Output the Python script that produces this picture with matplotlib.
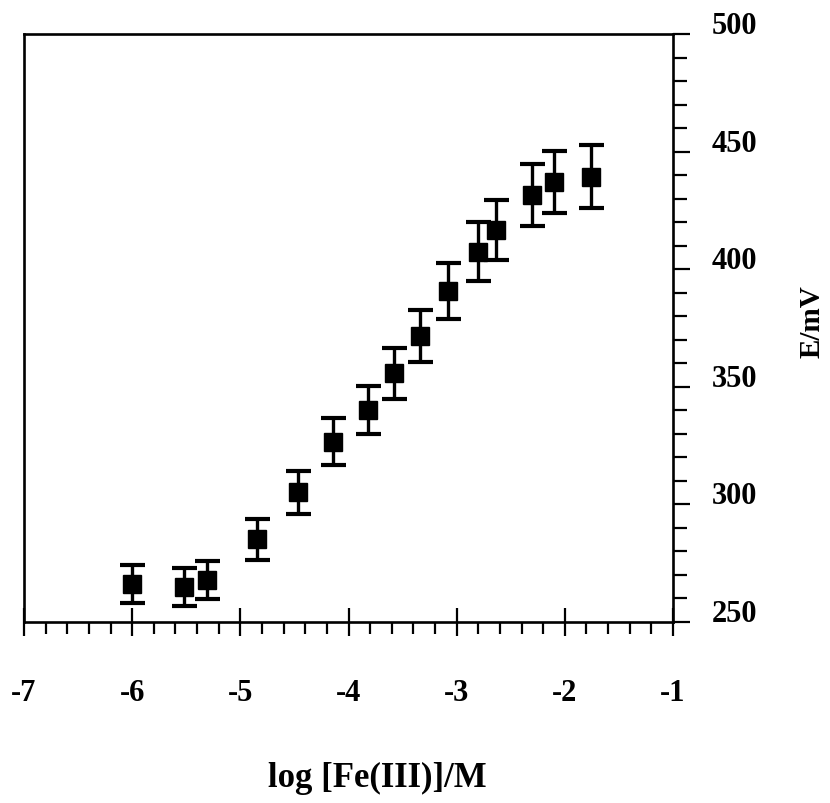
import matplotlib
matplotlib.use("Agg")
import matplotlib.pyplot as plt
from matplotlib.ticker import MultipleLocator, FixedLocator
from matplotlib.transforms import ScaledTranslation

log_fe = [-6.0, -5.52, -5.31, -4.85, -4.47, -4.14, -3.82, -3.58, -3.34, -3.08, -2.80, -2.64, -2.30, -2.10, -1.76]
e_mv = [266.2, 264.9, 267.9, 285.1, 305.1, 326.7, 340.1, 355.7, 371.6, 390.7, 407.5, 416.7, 431.5, 437.1, 439.4]
e_err = [8.1, 8.1, 8.1, 8.7, 9.1, 10.0, 10.2, 10.8, 11.0, 11.9, 12.5, 12.8, 13.2, 13.2, 13.4]
x_ticks = [-7, -6, -5, -4, -3, -2, -1]
y_ticks = [250, 300, 350, 400, 450, 500]

plt.rcParams['font.family'] = ['Liberation Serif', 'DejaVu Serif']
plt.rcParams['font.weight'] = 'bold'

fig = plt.figure(figsize=(8.30, 8.04), dpi=100)
ax = fig.add_axes([24/830, 1-623/804, (673-24)/830, (623-35)/804])

ax.errorbar(log_fe, e_mv, yerr=e_err, fmt='s', color='black', ms=12.5,
            elinewidth=2.4, capsize=9, capthick=3, mec='black', mfc='black')

ax.set_xlim(-7, -1)
ax.set_ylim(250, 500)
ax.xaxis.set_major_locator(FixedLocator(x_ticks))
ax.xaxis.set_minor_locator(MultipleLocator(0.2))
ax.yaxis.set_major_locator(FixedLocator(y_ticks))
ax.yaxis.set_minor_locator(MultipleLocator(10))
ax.set_xticklabels([str(v) for v in x_ticks])
ax.set_yticklabels([str(v) for v in y_ticks])

ax.yaxis.tick_right()
ax.yaxis.set_label_position('right')

for s in ax.spines.values():
    s.set_linewidth(1.9)
    s.set_color('black')

ax.tick_params(axis='x', which='major', direction='inout', length=20, width=1.6,
               labelsize=22, pad=30, top=False, bottom=True)
ax.tick_params(axis='x', which='minor', direction='out', length=8.5, width=1.6,
               top=False, bottom=True)
ax.tick_params(axis='y', which='major', direction='out', length=12, width=1.6,
               labelsize=22, pad=16, left=False, right=True)
ax.tick_params(axis='y', which='minor', direction='out', length=10, width=1.6,
               left=False, right=True)

off = ScaledTranslation(0, 12/100, fig.dpi_scale_trans)
for lab in ax.get_yticklabels():
    lab.set_transform(lab.get_transform() + off)
    lab.set_fontweight('bold')
for lab in ax.get_xticklabels():
    lab.set_fontweight('bold')

fig.text(377/830, 1-778/804, 'log [Fe(III)]/M', ha='center', va='center',
         fontsize=25, fontweight='bold')
fig.text(812/830, 1-322/804, 'E/mV', ha='center', va='center', rotation=90,
         fontsize=21, fontweight='bold')

fig.savefig('out.png', dpi=100)
